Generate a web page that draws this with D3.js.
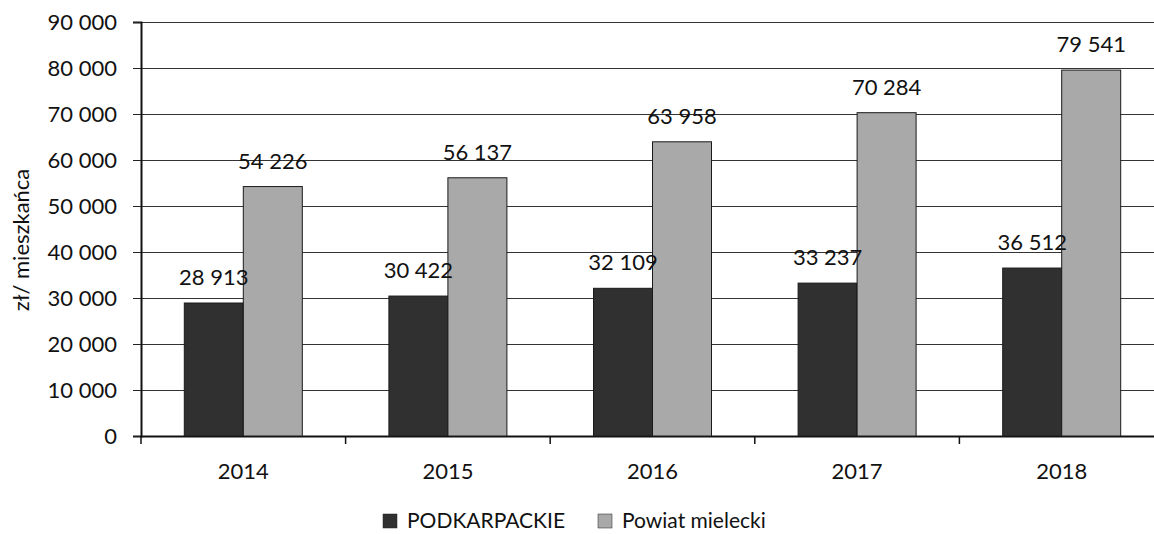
<!DOCTYPE html>
<html>
<head>
<meta charset="utf-8">
<script src="https://cdn.jsdelivr.net/npm/d3@7"></script>
<style>
  body { margin: 0; background: #fff; }
  text { font-family: 'Lato', 'Noto Sans', sans-serif; fill: #111; }
</style>
</head>
<body>
<div id="chart"></div>
<script>
// data
var years = ["2014", "2015", "2016", "2017", "2018"];
var podkarpackie = [28913, 30422, 32109, 33237, 36512];
var mielecki = [54226, 56137, 63958, 70284, 79541];
var seriesNames = ["PODKARPACKIE", "Powiat mielecki"];
var yTicks = [0, 10000, 20000, 30000, 40000, 50000, 60000, 70000, 80000, 90000];

var w = 1154, h = 534;
var mLeft = 141, mTop = 22, mBottom = 436, mRight = 1164;
var groupW = 118;

var svg = d3.select("#chart").append("svg")
    .attr("width", w).attr("height", h);

var fmt = function(v) { return d3.format(",")(v).replace(/,/g, " "); };

var x = d3.scaleBand().domain(years).range([mLeft, mRight]).paddingInner(0).paddingOuter(0);
var x1 = d3.scaleBand().domain(seriesNames).range([0, groupW]).padding(0);
var y = d3.scaleLinear().domain([0, 90000]).range([mBottom, mTop]);

var colors = ["#303030", "#a9a9a9"];

// gridlines
svg.append("g").selectAll("line")
    .data(yTicks)
    .enter().append("line")
    .attr("x1", mLeft).attr("x2", w)
    .attr("y1", d => y(d) + 0.5).attr("y2", d => y(d) + 0.5)
    .attr("stroke", "#333").attr("stroke-width", 1);

// y axis
var yAxis = d3.axisLeft(y).tickValues(yTicks).tickSize(8).tickPadding(16).tickFormat(fmt);
var gy = svg.append("g").attr("transform", "translate(" + mLeft + ",0)").call(yAxis);
gy.select(".domain").attr("stroke", "#111").attr("stroke-width", 2);
gy.selectAll(".tick line").attr("stroke", "#222");
gy.selectAll("text").style("font-size", "22px").attr("fill", "#111")
    .style("font-family", "Lato, 'Noto Sans', sans-serif");

// x axis
var gx = svg.append("g").attr("transform", "translate(0," + mBottom + ")");
gx.append("line").attr("x1", mLeft).attr("x2", w).attr("y1", 0.5).attr("y2", 0.5)
    .attr("stroke", "#111").attr("stroke-width", 2);
gx.selectAll(".xt").data(years).enter().append("line")
    .attr("x1", d => x(d)).attr("x2", d => x(d))
    .attr("y1", 0).attr("y2", 8).attr("stroke", "#111").attr("stroke-width", 1.5);
gx.selectAll(".xl").data(years).enter().append("text")
    .attr("x", d => x(d) + x.bandwidth() / 2)
    .attr("y", 43)
    .attr("text-anchor", "middle")
    .style("font-size", "22px")
    .text(d => d);

// bars
var rows = years.map((yr, i) => ({year: yr, vals: [podkarpackie[i], mielecki[i]]}));
var groups = svg.append("g").selectAll("g")
    .data(rows).enter().append("g")
    .attr("transform", d => "translate(" + (x(d.year) + (x.bandwidth() - groupW) / 2) + ",0)");

groups.selectAll("rect")
    .data(d => d.vals.map((v, j) => ({name: seriesNames[j], v: v, j: j})))
    .enter().append("rect")
    .attr("x", d => x1(d.name))
    .attr("y", d => y(d.v))
    .attr("width", x1.bandwidth())
    .attr("height", d => mBottom - y(d.v))
    .attr("fill", d => colors[d.j])
    .attr("stroke", "#1a1a1a").attr("stroke-width", 1);

groups.selectAll("text.val")
    .data(d => d.vals.map((v, j) => ({name: seriesNames[j], v: v, j: j})))
    .enter().append("text")
    .attr("class", "val")
    .attr("x", d => x1(d.name) + x1.bandwidth() / 2)
    .attr("y", d => y(d.v) - 18)
    .attr("text-anchor", "middle")
    .style("font-size", "22px")
    .text(d => fmt(d.v));

// y title
svg.append("text")
    .attr("transform", "translate(29,240) rotate(-90)")
    .attr("text-anchor", "middle")
    .style("font-size", "22px")
    .text("zł/ mieszkańca");

// legend
var legend = svg.append("g").attr("transform", "translate(383,528)");
var legX = [0, 215];
seriesNames.forEach(function(n, i) {
    legend.append("rect").attr("x", legX[i]).attr("y", -14).attr("width", 14).attr("height", 14)
        .attr("fill", colors[i]).attr("stroke", "#222").attr("stroke-width", 0.5);
    legend.append("text").attr("x", legX[i] + 24).attr("y", 0)
        .style("font-size", "21px").text(n);
});
</script>
</body>
</html>
